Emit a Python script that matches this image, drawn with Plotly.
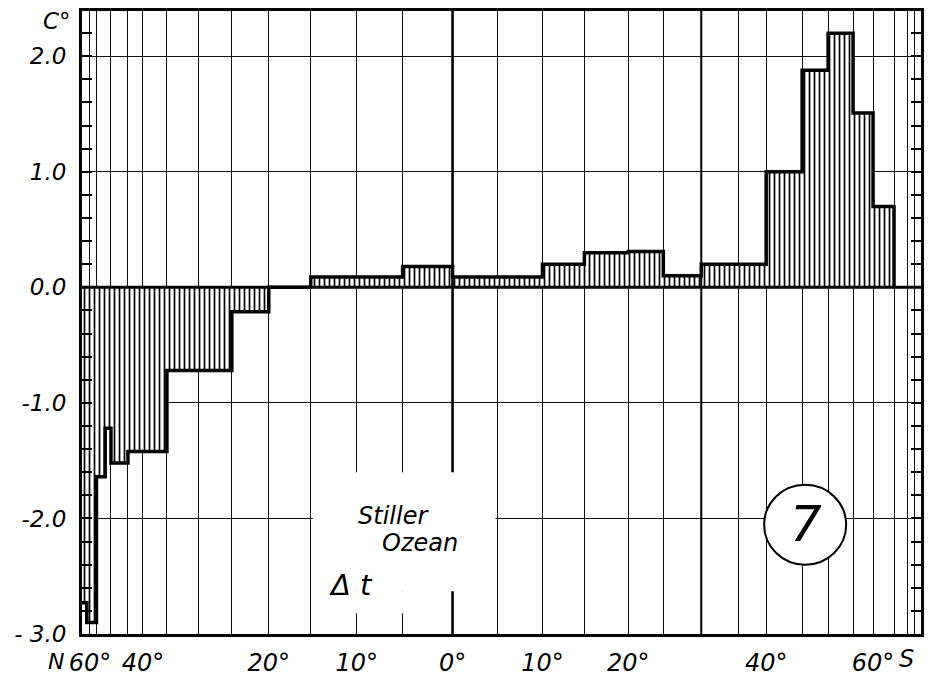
import numpy as np
import plotly.graph_objects as go

# Non-linear latitude scale of the original chart (N negative, S positive) -> axis position
SCALE_LAT = [-65, -60, -55, -50, -45, -40, -35, -30, -25, -20, -15, -10, -5, 0,
             5, 10, 15, 20, 25, 30, 35, 40, 45, 50, 55, 60, 65, 70, 75, 80]
SCALE_POS = [-371, -363, -356.5, -342, -325, -310, -286, -254, -221, -184, -142, -96, -50, 0,
             45, 90, 132, 176, 211, 249, 286, 314, 350, 376, 401, 421, 442, 455, 462, 469]

# Latitude bands (edges) and temperature difference per band
BAND_EDGES = [-65, -62, -55, -52, -50, -45, -35, -25, -20, -15, -10, -5, 0,
              5, 10, 15, 20, 25, 30, 35, 40, 45, 50, 55, 60, 65]
DELTA_T = [-2.73, -2.90, -1.64, -1.22, -1.52, -1.42, -0.72, -0.21, 0.0, 0.09, 0.09, 0.18,
           0.09, 0.09, 0.20, 0.30, 0.31, 0.10, 0.20, 0.20, 1.00, 1.88, 2.20, 1.51, 0.70]

TICK_LAT = [-60, -40, -20, -10, 0, 10, 20, 40, 60]
TICK_TEXT = ["60°", "40°", "20°", "10°", "0°", "10°", "20°", "40°", "60°"]
Y_TICKS = [-3, -2, -1, 0, 1, 2]
Y_TEXT = ["- 3.0", "-2.0", "-1.0", "0.0", "1.0", "2.0"]


def pos(lat):
    return float(np.interp(lat, SCALE_LAT, SCALE_POS))


W, H = 932, 685
ML, MR, MT, MB = 82, 10, 8, 44
PW, PH = W - ML - MR, H - MT - MB


def px(x):
    return (x - ML) / PW


def py(y):
    return (H - MB - y) / PH


FONT = "DejaVu Sans"

left = [pos(a) for a in BAND_EDGES[:-1]]
right = [pos(b) for b in BAND_EDGES[1:]]
centers = [(a + b) / 2 for a, b in zip(left, right)]
widths = [b - a for a, b in zip(left, right)]

fig = go.Figure()
fig.add_trace(go.Bar(
    x=centers, y=DELTA_T, width=widths,
    marker=dict(color="black", line=dict(width=0),
                pattern=dict(shape="|", size=5, solidity=0.34,
                             fgcolor="black", bgcolor="white", fillmode="replace")),
    hoverinfo="skip", showlegend=False))

step_x = [pos(e) for e in BAND_EDGES] + [pos(BAND_EDGES[-1])]
step_y = DELTA_T + [DELTA_T[-1], 0]
fig.add_trace(go.Scatter(x=step_x, y=step_y, mode="lines",
                         line=dict(shape="hv", color="black", width=3.5),
                         hoverinfo="skip", showlegend=False))

grid_minor = [pos(l) for l in SCALE_LAT[1:-1]]
x_min, x_max = SCALE_POS[0], SCALE_POS[-1]
y_min = Y_TICKS[0]
y_max = y_min + PH / 117.4

fig.update_layout(
    width=W, height=H, margin=dict(l=ML, r=MR, t=MT, b=MB),
    paper_bgcolor="white", plot_bgcolor="white",
    font=dict(family=FONT, size=23, color="black", style="italic"),
    bargap=0,
    xaxis=dict(range=[x_min, x_max], tickmode="array",
               tickvals=[pos(l) for l in TICK_LAT], ticktext=TICK_TEXT,
               showgrid=True, gridcolor="#111111", gridwidth=1.2,
               ticks="", showline=True, linecolor="black", linewidth=3, mirror=True,
               zeroline=False, ticklabelstandoff=5,
               tickfont=dict(family=FONT, size=24, style="italic"),
               minor=dict(tickmode="array", tickvals=grid_minor, showgrid=True,
                          gridcolor="#111111", gridwidth=1.2, ticks="")),
    yaxis=dict(range=[y_min, y_max], tickmode="array", tickvals=Y_TICKS, ticktext=Y_TEXT,
               showgrid=True, gridcolor="#111111", gridwidth=1.2,
               ticks="inside", ticklen=10, tickwidth=1.5, tickcolor="black",
               showline=True, linecolor="black", linewidth=3, mirror="allticks",
               zeroline=False, ticklabelstandoff=8,
               tickfont=dict(family=FONT, size=23, style="italic"),
               minor=dict(dtick=0.2, tick0=0, ticks="inside", ticklen=10,
                          tickwidth=1.5, tickcolor="black", showgrid=False)),
)

shapes = [
    dict(type="line", xref="paper", yref="y", x0=0, x1=1, y0=0, y1=0,
         line=dict(color="black", width=3), layer="above"),
    dict(type="line", xref="x", yref="paper", x0=pos(0), x1=pos(0), y0=0, y1=1,
         line=dict(color="black", width=2.6), layer="above"),
    dict(type="line", xref="x", yref="paper", x0=pos(30), x1=pos(30), y0=0, y1=1,
         line=dict(color="black", width=2), layer="above"),
    # blank label field behind the title
    dict(type="rect", xref="x", yref="y", x0=pos(-15) + 2, x1=pos(5) - 2, y0=-2.63, y1=-1.60,
         fillcolor="white", line=dict(width=0), layer="above"),
    dict(type="rect", xref="x", yref="y", x0=pos(-15) + 2, x1=pos(0) - 2, y0=-2.82, y1=-2.63,
         fillcolor="white", line=dict(width=0), layer="above"),
    # circled figure number
    dict(type="circle", xref="paper", yref="paper", xsizemode="pixel", ysizemode="pixel",
         xanchor=px(806), yanchor=py(530), x0=-41, x1=41, y0=-40, y1=40,
         fillcolor="white", line=dict(color="black", width=2), layer="above"),
]
fig.update_layout(shapes=shapes)

ann = [
    ("C°", 57, 18, 23),
    ("N", 56, 669, 22),
    ("S", 907, 666, 24),
    ("Stiller", 394, 521, 24),
    ("Ozean", 420, 549, 24),
    ("Δ t", 351, 591, 29),
    ("7", 807, 529, 50),
]
for text, x, y, s in ann:
    fig.add_annotation(text=text, xref="paper", yref="paper", x=px(x), y=py(y),
                       xanchor="center", yanchor="middle", showarrow=False,
                       font=dict(family=FONT, size=s, color="black", style="italic"))

fig.write_html("out.html")
